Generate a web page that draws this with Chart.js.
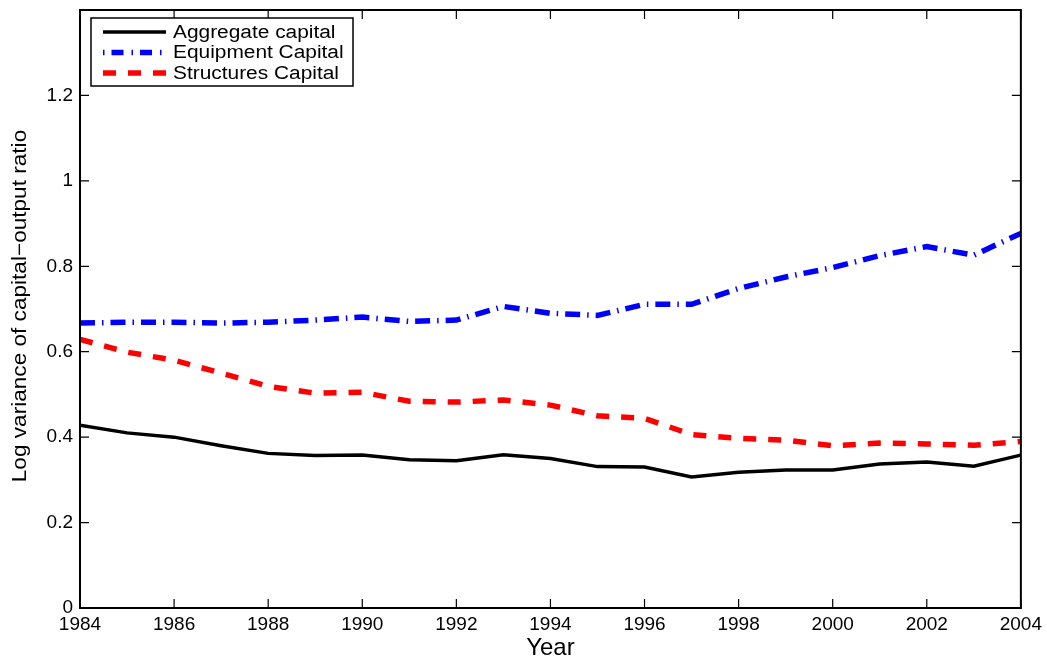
<!DOCTYPE html>
<html>
<head>
<meta charset="utf-8">
<script src="https://cdn.jsdelivr.net/npm/chart.js@4.4.1/dist/chart.umd.min.js"></script>
<style>
  html, body { margin: 0; padding: 0; background: #fff; }
  #wrap { width: 1047px; height: 656px; }
</style>
</head>
<body>
<div id="wrap"><canvas id="chart"></canvas></div>
<script>
const years = [1984, 1985, 1986, 1987, 1988, 1989, 1990, 1991, 1992, 1993, 1994,
               1995, 1996, 1997, 1998, 1999, 2000, 2001, 2002, 2003, 2004];
const aggregate = [0.428, 0.41, 0.40, 0.38, 0.362, 0.357, 0.358, 0.347, 0.345, 0.359, 0.35,
                   0.331, 0.330, 0.307, 0.318, 0.323, 0.323, 0.337, 0.342, 0.332, 0.358];
const equipment = [0.667, 0.669, 0.669, 0.667, 0.669, 0.674, 0.681, 0.671, 0.674, 0.706, 0.69,
                   0.685, 0.711, 0.711, 0.748, 0.775, 0.797, 0.825, 0.846, 0.826, 0.877];
const structures = [0.629, 0.599, 0.58, 0.55, 0.519, 0.503, 0.505, 0.484, 0.482, 0.487, 0.475,
                    0.45, 0.444, 0.406, 0.397, 0.393, 0.380, 0.386, 0.384, 0.381, 0.390];
const seriesNames = ["Aggregate capital", "Equipment Capital", "Structures Capital"];
const yTicks = [0, 0.2, 0.4, 0.6, 0.8, 1, 1.2];
const yTitle = "Log variance of capital\u2212output ratio";

const FONT = "'Liberation Sans', Arial, Helvetica, sans-serif";

function pts(vals) {
    return vals.map((v, i) => ({ x: years[i], y: v }));
}

// box, inward ticks, y title and legend, matlab style
const matlabFrame = {
    id: "matlabFrame",
    afterDatasetsDraw(chart) {
        const ctx = chart.ctx;
        const a = chart.chartArea;
        const xs = chart.scales.x, ys = chart.scales.y;
        ctx.save();
        ctx.strokeStyle = "#000";
        ctx.lineWidth = 1.2;
        ctx.setLineDash([]);
        ctx.beginPath();
        const tl = 9;
        for (let yr = 1984; yr <= 2004; yr += 2) {
            const px = xs.getPixelForValue(yr);
            ctx.moveTo(px, a.bottom); ctx.lineTo(px, a.bottom - tl);
            ctx.moveTo(px, a.top); ctx.lineTo(px, a.top + tl);
        }
        yTicks.forEach(v => {
            const py = ys.getPixelForValue(v);
            ctx.moveTo(a.left, py); ctx.lineTo(a.left + tl, py);
            ctx.moveTo(a.right, py); ctx.lineTo(a.right - tl, py);
        });
        ctx.stroke();
        ctx.lineWidth = 2;
        ctx.strokeRect(a.left, a.top, a.right - a.left, a.bottom - a.top);

        // y title, stretched a little like the original
        ctx.save();
        ctx.translate(26, (a.top + a.bottom) / 2 - 3);
        ctx.rotate(-Math.PI / 2);
        ctx.scale(1.13, 1);
        ctx.font = "20px " + FONT;
        ctx.fillStyle = "#000";
        ctx.textAlign = "center";
        ctx.textBaseline = "alphabetic";
        ctx.fillText(yTitle, 0, 0);
        ctx.restore();

        // legend box
        const lx = a.left + 11, ly = a.top + 8, lw = 262, lh = 68;
        ctx.fillStyle = "#fff";
        ctx.fillRect(lx, ly, lw, lh);
        ctx.lineWidth = 1.5;
        ctx.strokeRect(lx, ly, lw, lh);
        chart.data.datasets.forEach((ds, i) => {
            const ry = ly + 14 + i * 20.5;
            ctx.strokeStyle = ds.borderColor;
            ctx.lineWidth = ds.borderWidth;
            ctx.lineCap = "butt";
            ctx.setLineDash(ds.legendDash || []);
            ctx.beginPath();
            ctx.moveTo(lx + 12, ry); ctx.lineTo(lx + 75, ry);
            ctx.stroke();
            ctx.setLineDash([]);
            ctx.save();
            ctx.translate(lx + 82, ry + 1);
            ctx.scale(1.16, 1);
            ctx.font = "18px " + FONT;
            ctx.textBaseline = "middle";
            ctx.fillStyle = "#000";
            ctx.fillText(ds.label, 0, 0);
            ctx.restore();
        });
        ctx.restore();
    }
};

const chart = new Chart(document.getElementById("chart"), {
    type: "line",
    data: {
        datasets: [
            {
                label: seriesNames[0],
                data: pts(aggregate),
                borderColor: "#000000",
                borderWidth: 3.5,
            },
            {
                label: seriesNames[1],
                data: pts(equipment),
                borderColor: "#0000ff",
                borderWidth: 5.5,
                borderDash: [15, 7, 1.5, 7],
                legendDash: [1.5, 7, 12, 8, 1.5, 7, 12, 8],
            },
            {
                label: seriesNames[2],
                data: pts(structures),
                borderColor: "#ff0000",
                borderWidth: 5.5,
                borderDash: [13, 12],
                legendDash: [13, 12],
            },
        ],
    },
    plugins: [matlabFrame],
    options: {
        responsive: true,
        maintainAspectRatio: false,
        animation: false,
        layout: { padding: { left: 8, right: 23, top: 10, bottom: 0 } },
        elements: {
            point: { radius: 0 },
            line: { tension: 0, borderCapStyle: "butt", borderJoinStyle: "miter" },
        },
        plugins: {
            legend: { display: false },
            tooltip: { enabled: false },
        },
        scales: {
            x: {
                type: "linear",
                min: 1984,
                max: 2004,
                grid: { display: false, drawTicks: false },
                border: { display: false },
                ticks: {
                    stepSize: 2,
                    color: "#000",
                    padding: 5,
                    maxRotation: 0,
                    font: { family: FONT, size: 19 },
                    callback: v => String(v),
                },
                title: {
                    display: true,
                    text: "Year",
                    color: "#000",
                    padding: { top: 0, bottom: -7 },
                    font: { family: FONT, size: 24 },
                },
                afterFit: s => { s.height = 48; },
            },
            y: {
                min: 0,
                max: 1.4,
                grid: { display: false, drawTicks: false },
                border: { display: false },
                ticks: {
                    color: "#000",
                    padding: 7,
                    font: { family: FONT, size: 19 },
                    callback: v => String(Math.round(v * 10) / 10),
                },
                // only label up to 1.2, the top of the box stays unlabelled
                afterBuildTicks: s => { s.ticks = yTicks.map(v => ({ value: v })); },
                afterFit: s => { s.width = 72; s.paddingTop = 0; },
            },
        },
    },
});
</script>
</body>
</html>
